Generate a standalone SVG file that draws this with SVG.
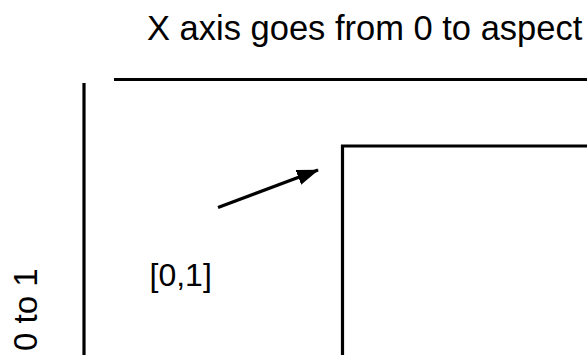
<svg xmlns="http://www.w3.org/2000/svg" width="587" height="355" viewBox="0 0 587 355">
<style>
text{font-family:"Liberation Sans",Arial,sans-serif;fill:#000}
.ln{stroke:#000;stroke-width:3.2;fill:none}
</style>
<defs>
<marker id="ah" viewBox="0 0 22 16" refX="21" refY="8" markerWidth="22" markerHeight="16" orient="auto" markerUnits="userSpaceOnUse">
<path d="M0,0 L22,8 L0,16 z" fill="#000"/>
</marker>
</defs>
<rect width="587" height="355" fill="#fff"/>
<g id="title"><text x="147" y="40" font-size="34.5">X axis goes from 0 to aspect</text></g>
<g id="x-axis"><line class="ln" x1="114" y1="79.5" x2="587" y2="79.5"/></g>
<g id="y-axis"><line class="ln" x1="84" y1="83" x2="84" y2="355"/></g>
<g id="y-label"><text transform="translate(37,351) rotate(-90)" font-size="33">0 to 1</text></g>
<g id="viewport"><path class="ln" d="M342.5,355 V146 H587"/></g>
<g id="point-label"><text x="149.5" y="286" font-size="32">[0,1]</text></g>
<g id="connectors"><line class="ln" x1="218" y1="207.5" x2="318" y2="170" marker-end="url(#ah)"/></g>
</svg>
